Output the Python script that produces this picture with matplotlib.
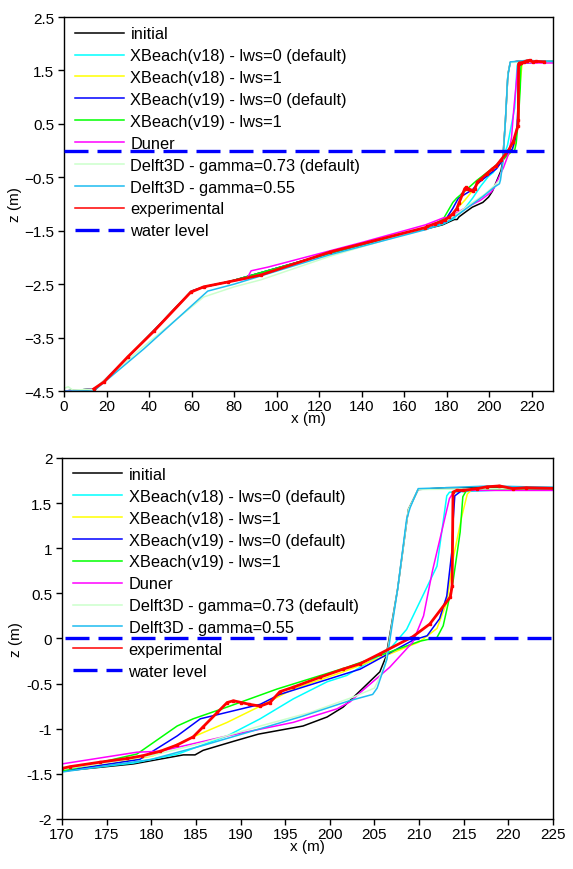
import matplotlib
matplotlib.use('Agg')
import matplotlib.pyplot as plt

plt.rcParams['font.family'] = ['Liberation Sans', 'DejaVu Sans']

# offshore part of the profile, shared by initial profile and XBeach runs
offX = [0, 15, 30, 42, 60, 66, 78, 125, 160]
offZ = [-4.5, -4.46, -3.87, -3.38, -2.63, -2.55, -2.45, -1.92, -1.55]

# initial profile
initX = offX + [170, 178, 183.6, 184.9, 185.8, 189.2, 192, 197, 199.7, 201.5, 203.4, 205.6, 206.3, 207.6, 208.8, 209.9, 213, 230]
initZ = offZ + [-1.47, -1.39, -1.29, -1.29, -1.24, -1.14, -1.06, -0.97, -0.87, -0.76, -0.58, -0.37, -0.2, 0.55, 1.43, 1.65, 1.67, 1.67]

# XBeach (v18) - lws=0
xb18aX = offX + [170, 178, 183, 188.5, 192.2, 195.9, 199.7, 201.9, 206.7, 208.6, 212, 213.1, 213.4, 225, 230]
xb18aZ = offZ + [-1.47, -1.38, -1.28, -1.08, -0.89, -0.67, -0.48, -0.41, -0.12, 0.10, 0.80, 1.58, 1.62, 1.67, 1.67]

# XBeach (v18) - lws=1
xb18bX = offX + [170, 176, 180.2, 184.7, 188.5, 192.2, 195.9, 201.5, 206, 210, 212, 213.1, 213.8, 214.8, 215.4, 216, 230]
xb18bZ = offZ + [-1.46, -1.38, -1.30, -1.09, -0.93, -0.75, -0.56, -0.37, -0.2, -0.04, 0.11, 0.40, 0.88, 1.36, 1.60, 1.66, 1.67]

# XBeach (v19) - lws=0
xb19aX = offX + [170, 178.7, 182.9, 185.5, 192.2, 194.4, 203.4, 206, 209.3, 210.9, 212.3, 213.1, 213.7, 213.8, 214, 214.8, 230]
xb19aZ = offZ + [-1.47, -1.34, -1.08, -0.89, -0.73, -0.62, -0.34, -0.2, -0.02, 0.03, 0.22, 0.47, 0.99, 1.29, 1.58, 1.64, 1.67]

# XBeach (v19) - lws=1
xb19bX = offX + [170, 178.4, 182.9, 184.7, 188.5, 194.1, 201.9, 205.6, 210.1, 212, 212.7, 213.8, 214.6, 214.9, 215.3, 230]
xb19bZ = offZ + [-1.47, -1.28, -0.97, -0.89, -0.76, -0.56, -0.32, -0.19, -0.03, 0.01, 0.14, 0.63, 1.18, 1.57, 1.64, 1.67]

# Duner
dunerX = [0, 15, 30, 42, 60, 66, 78, 86, 88, 96, 140, 170, 178.4, 181, 188.5, 195.9, 200.8, 202.3, 203.4, 206.7, 209.3, 210.5, 211.5, 213.4, 214, 230]
dunerZ = [-4.5, -4.46, -3.87, -3.38, -2.63, -2.55, -2.45, -2.40, -2.25, -2.18, -1.72, -1.39, -1.26, -1.25, -1.08, -0.93, -0.78, -0.70, -0.60, -0.32, -0.04, 0.25, 0.75, 1.55, 1.64, 1.64]

# Delft3D - gamma=0.73
d3dAX = [0, 2, 4, 14, 37, 65.7, 80, 92.5, 125, 170, 180, 186, 192.2, 197.8, 202.6, 205, 206.2, 207.6, 208.8, 209.9, 230]
d3dAZ = [-4.45, -4.42, -4.48, -4.47, -3.68, -2.74, -2.55, -2.42, -1.98, -1.45, -1.30, -1.15, -0.97, -0.82, -0.65, -0.55, -0.3, 0.55, 1.43, 1.65, 1.67]

# Delft3D - gamma=0.55
d3dBX = [0, 14, 37.6, 67.6, 80, 125, 170, 180, 186, 192.2, 197, 202.2, 204.8, 205.3, 206.4, 207.6, 208.6, 209, 209.9, 213, 218, 222, 230]
d3dBZ = [-4.5, -4.5, -3.71, -2.63, -2.5, -1.95, -1.48, -1.34, -1.18, -1.0, -0.86, -0.69, -0.62, -0.55, -0.23, 0.55, 1.32, 1.45, 1.66, 1.67, 1.69, 1.68, 1.67]

# experimental
expX = [14, 18.8, 30, 42.3, 59.6, 65.7, 77, 92.5, 125, 170, 170.9, 174.3, 177.3, 179, 181, 182.9, 184.7, 185.8, 187.4, 188.5,
        189.2, 190.1, 191, 192.2, 193.3, 194.4, 195.9, 198.9, 201.5, 203.4, 205.6, 209.3, 211.2, 213.5, 213.7, 213.8, 214.2,
        214.9, 216.5, 217.6, 219, 220.5, 222, 226]
expZ = [-4.46, -4.33, -3.86, -3.38, -2.65, -2.55, -2.46, -2.33, -1.90, -1.44, -1.42, -1.37, -1.33, -1.30, -1.25, -1.18, -1.09,
        -0.98, -0.82, -0.71, -0.69, -0.71, -0.73, -0.75, -0.71, -0.59, -0.54, -0.43, -0.34, -0.28, -0.17, 0.02, 0.16, 0.46,
        0.58, 1.62, 1.64, 1.64, 1.66, 1.68, 1.69, 1.66, 1.67, 1.66]

# water level
wlX = [0, 226]
wlZ = [0, 0]

labels = ['initial', 'XBeach(v18) - lws=0 (default)', 'XBeach(v18) - lws=1', 'XBeach(v19) - lws=0 (default)',
          'XBeach(v19) - lws=1', 'Duner', 'Delft3D - gamma=0.73 (default)', 'Delft3D - gamma=0.55']
colors = ['black', '#00ffff', '#ffff00', '#0000ff', '#00ff00', '#ff00ff', '#ccffcc', '#1ebcf0']
series = [(initX, initZ), (xb18aX, xb18aZ), (xb18bX, xb18bZ), (xb19aX, xb19aZ), (xb19bX, xb19bZ),
          (dunerX, dunerZ), (d3dAX, d3dAZ), (d3dBX, d3dBZ)]

fig = plt.figure(figsize=(5.73, 8.70), dpi=100)
axTop = fig.add_axes([0.1117, 0.5494, 0.8534, 0.4299])
axBot = fig.add_axes([0.1082, 0.0575, 0.8569, 0.4150])


def drawProfiles(ax):
    for (x, z), c, lab in zip(series, colors, labels):
        ax.plot(x, z, color=c, lw=1.1, label=lab)
    ax.plot(expX, expZ, color='red', lw=2, label='experimental')
    ax.plot(expX, expZ, ls='none', color='red', marker='s', ms=1.8, label='_nolegend_')
    ax.plot(wlX, wlZ, color='#0000ff', lw=2.4, dashes=(7.2, 2.7), label='water level', zorder=6)
    ax.tick_params(direction='out', length=4, width=1, labelsize=11)
    ax.tick_params(axis='x', pad=1.5)
    ax.tick_params(axis='y', pad=3)
    for sp in ax.spines.values():
        sp.set_linewidth(1)
    ax.set_xlabel('x (m)', fontsize=11, labelpad=-1)
    ax.set_ylabel('z (m)', fontsize=11, labelpad=2)
    leg = ax.legend(loc='upper left', bbox_to_anchor=(0.022, 0.975), frameon=False, fontsize=11.8,
                    handlelength=3.0, handletextpad=0.4, labelspacing=0.42, borderpad=0, borderaxespad=0)
    leg.get_lines()[8].set_linewidth(1.1)
    return leg


drawProfiles(axTop)
axTop.set_xlim(0, 230)
axTop.set_ylim(-4.5, 2.5)
axTop.set_xticks(range(0, 221, 20))
axTop.set_yticks([-4.5, -3.5, -2.5, -1.5, -0.5, 0.5, 1.5, 2.5])

drawProfiles(axBot)
axBot.set_xlim(170, 225)
axBot.set_ylim(-2, 2)
axBot.set_xticks(range(170, 226, 5))
axBot.set_yticks([-2, -1.5, -1, -0.5, 0, 0.5, 1, 1.5, 2])
axBot.set_yticklabels(['-2', '-1.5', '-1', '-0.5', '0', '0.5', '1', '1.5', '2'])

fig.savefig('out.png', dpi=100)
